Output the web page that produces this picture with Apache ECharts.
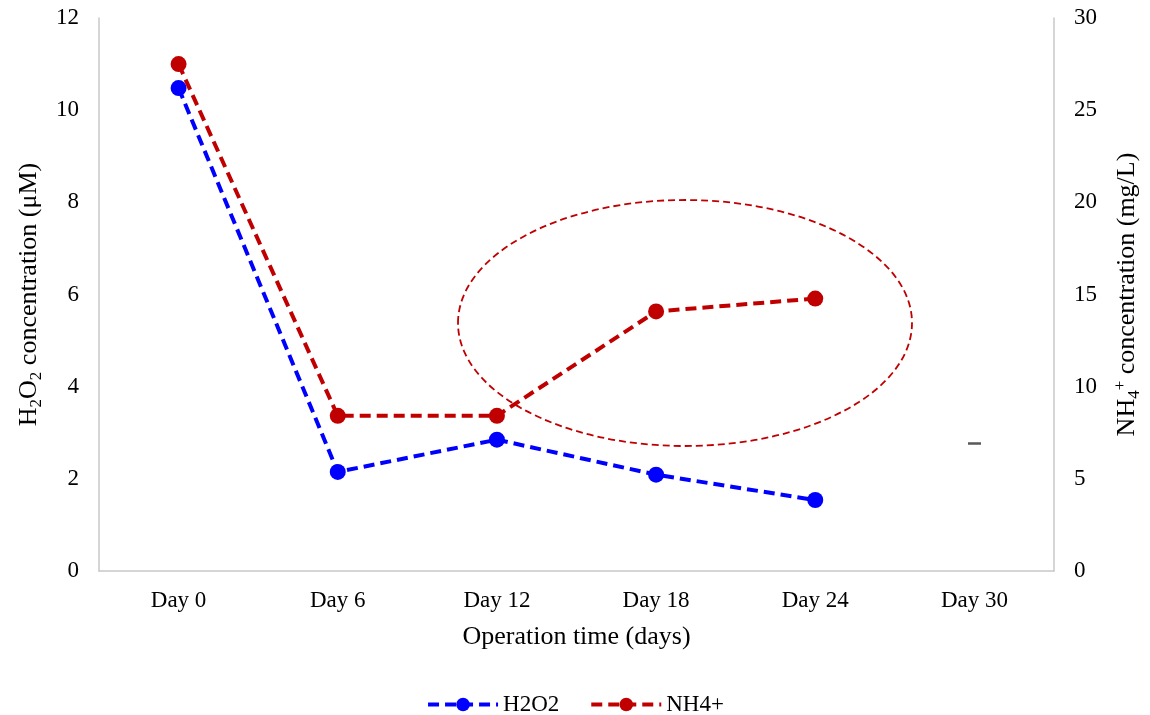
<!DOCTYPE html>
<html>
<head>
<meta charset="utf-8">
<script src="https://cdn.jsdelivr.net/npm/echarts@6/dist/echarts.min.js"></script>
<style>html,body{margin:0;padding:0;background:#fff}#c{width:1150px;height:715px}</style>
</head>
<body>
<div id="c"></div>
<script>
const categories = ['Day 0', 'Day 6', 'Day 12', 'Day 18', 'Day 24', 'Day 30'];
const h2o2 = [10.48, 2.15, 2.85, 2.09, 1.54, null];
const nh4 = [27.5, 8.42, 8.42, 14.08, 14.78, null];

const chart = echarts.init(document.getElementById('c'));
const font = 'Liberation Serif, Times New Roman, serif';
const axisLine = { show: true, lineStyle: { color: '#c8c8c8', width: 1.5 } };
chart.setOption({
  animation: false,
  textStyle: { fontFamily: font },
  grid: { left: 99, right: 96, top: 18, bottom: 144, containLabel: false, outerBoundsMode: 'none' },
  legend: {
    bottom: -6, left: 'center',
    itemWidth: 70, itemHeight: 17, itemGap: 30,
    lineStyle: { width: 4 },
    textStyle: { fontFamily: font, fontSize: 23, color: '#000' },
    data: ['H2O2', 'NH4+']
  },
  xAxis: {
    type: 'category', data: categories, boundaryGap: true,
    axisLine: axisLine, axisTick: { show: false },
    axisLabel: { fontFamily: font, fontSize: 23, color: '#000', margin: 18 },
    name: 'Operation time (days)', nameLocation: 'middle', nameGap: 53,
    nameTextStyle: { fontFamily: font, fontSize: 26, color: '#000' }
  },
  yAxis: [{
    type: 'value', min: 0, max: 12, interval: 2,
    axisLine: axisLine, axisTick: { show: false }, splitLine: { show: false },
    axisLabel: { fontFamily: font, fontSize: 23, color: '#000', margin: 20 },
    name: 'H{sub|2}O{sub|2} concentration (μM)', nameLocation: 'middle', nameGap: 54, nameRotate: 90,
    nameTextStyle: { fontFamily: font, fontSize: 26, color: '#000',
      rich: { sub: { fontFamily: font, fontSize: 17, color: '#000', padding: [14, 0, 0, 0] } } }
  }, {
    type: 'value', min: 0, max: 30, interval: 5, position: 'right',
    axisLine: axisLine, axisTick: { show: false }, splitLine: { show: false },
    axisLabel: { fontFamily: font, fontSize: 23, color: '#000', margin: 20 },
    name: 'NH{sub|4}{sup|+} concentration (mg/L)', nameLocation: 'middle', nameGap: 58, nameRotate: 90,
    nameTextStyle: { fontFamily: font, fontSize: 26, color: '#000',
      rich: { sub: { fontFamily: font, fontSize: 17, color: '#000', padding: [14, 0, 0, 0] },
              sup: { fontFamily: font, fontSize: 17, color: '#000', padding: [0, 0, 14, 0] } } }
  }],
  series: [{
    name: 'H2O2', type: 'line', yAxisIndex: 0, data: h2o2,
    symbol: 'circle', symbolSize: 16, z: 3,
    itemStyle: { color: '#0000ff' },
    lineStyle: { color: '#0000ff', width: 4, type: [11, 6] }
  }, {
    name: 'NH4+', type: 'line', yAxisIndex: 1, data: nh4,
    symbol: 'circle', symbolSize: 16, z: 4,
    itemStyle: { color: '#c00000' },
    lineStyle: { color: '#c00000', width: 4, type: [11, 6] }
  }],
  graphic: [{
    type: 'ellipse', shape: { cx: 685, cy: 323, rx: 227, ry: 123 },
    style: { fill: 'none', stroke: '#c00000', lineWidth: 1.8, lineDash: [7, 4] }, z: 10
  }, {
    type: 'line', shape: { x1: 968, y1: 443.5, x2: 981, y2: 443.5 },
    style: { stroke: '#595959', lineWidth: 2.5 }
  }]
});
</script>
</body>
</html>
